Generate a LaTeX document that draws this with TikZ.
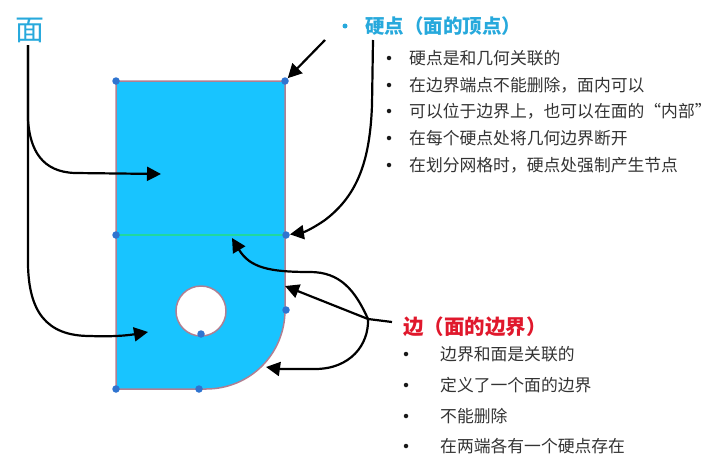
\documentclass[tikz,border=0pt]{standalone}
\usepackage{fontspec}
\setmainfont{Noto Sans CJK SC}
\usetikzlibrary{arrows.meta}
\definecolor{facefill}{HTML}{18C4FF}
\definecolor{edgeline}{HTML}{B07F92}
\definecolor{vert}{HTML}{2F74D0}
\definecolor{splitc}{HTML}{20D8A0}
\definecolor{headblue}{HTML}{27A9DC}
\definecolor{headred}{HTML}{E0182C}
\definecolor{bodytext}{HTML}{333333}
\tikzset{
  x=1pt,y=-1pt,
  vertex/.style={circle,fill=vert,inner sep=0pt,minimum size=7.5pt},
  pointer/.style={draw=black,line width=2.2pt,-{Triangle[length=14pt,width=14pt]}},
  plainline/.style={draw=black,line width=2.2pt},
  listitem/.style={anchor=west,inner sep=0pt,text=bodytext,font=\fontsize{16.8pt}{20pt}\selectfont},
  bulletdot/.style={circle,fill=black!90,inner sep=0pt,minimum size=4.5pt},
}
\begin{document}
\begin{tikzpicture}
\useasboundingbox (0,0) rectangle (720,466);
% face
\path[fill=facefill,draw=edgeline,line width=1.5pt,even odd rule]
  (116,81) -- (285,81) -- (285,310) .. controls (285,354) and (250,389) .. (206,389) -- (116,389) -- cycle
  (226,311) arc[start angle=0,end angle=360,radius=25];
\draw[splitc,line width=1.6pt] (118,235) -- (283,235);
% vertices
\node[vertex] (v1) at (116,81) {};
\node[vertex] (v2) at (285,81) {};
\node[vertex] (v3) at (116,235) {};
\node[vertex] (v4) at (286,235) {};
\node[vertex] (v5) at (286,310) {};
\node[vertex] (v6) at (201,334) {};
\node[vertex] (v7) at (116,389) {};
\node[vertex] (v8) at (199,389) {};
% anchors
\coordinate (faceA) at (161,174);
\coordinate (faceB) at (148,332);
\coordinate (split) at (232,238);
\coordinate (edgeR) at (285,286);
\coordinate (edgeC) at (266,367);
\coordinate (fork) at (368,319);
\coordinate (faceroot) at (28,45);
\coordinate (hard1) at (325,40);
\coordinate (hard2) at (373,40);
% headings
\node[anchor=center,inner sep=0pt,text=headblue,font=\fontsize{29pt}{32pt}\selectfont] (facehead) at (30,30) {面};
\node[circle,fill=headblue,inner sep=0pt,minimum size=5pt] (hb) at (345,26) {};
\node[anchor=west,inner sep=0pt,text=headblue,font=\fontsize{19.5pt}{22pt}\selectfont\bfseries] (hardhead) at (365,26) {硬点（面的顶点）};
\node[anchor=west,inner sep=0pt,text=headred,font=\fontsize{20.5pt}{22pt}\selectfont\bfseries] (edgehead) at (403,327) {边（面的边界）};
% lists
\foreach \i/\y/\t in {a/58/硬点是和几何关联的,b/85/在边界端点不能删除，面内可以,c/111/可以位于边界上，也可以在面的“内部”,d/138/在每个硬点处将几何边界断开,e/165/在划分网格时，硬点处强制产生节点}{
  \node[bulletdot] (hd\i) at (389,\y) {};
  \node[listitem] (ht\i) at (409,\y) {\t};
}
\foreach \i/\y/\t in {a/354/边界和面是关联的,b/385/定义了一个面的边界,c/416/不能删除,d/446/在两端各有一个硬点存在}{
  \node[bulletdot] (ed\i) at (406,\y) {};
  \node[listitem] (et\i) at (440,\y) {\t};
}
% connectors
\draw[pointer] (faceroot) -- (28,120) .. controls (30,150) and (42,172) .. (75,173) -- (faceA);
\draw[pointer] (faceroot) -- (28,265) .. controls (29,310) and (45,336) .. (90,336) .. controls (115,337) and (130,335) .. (faceB);
\draw[pointer] (hard1) -- (v2);
\draw[pointer] (hard2) -- (372,105) .. controls (370,160) and (358,195) .. (325,220) .. controls (315,227) and (305,232) .. (v4);
\draw[plainline] (392,322) -- (fork);
\draw[pointer] (fork) -- (edgeR);
\draw[pointer] (fork) .. controls (355,290) and (340,272) .. (310,272) .. controls (270,272) and (250,268) .. (split);
\draw[pointer] (fork) .. controls (369,345) and (350,369) .. (315,369) .. controls (295,369) and (280,369) .. (edgeC);
\end{tikzpicture}
\end{document}
